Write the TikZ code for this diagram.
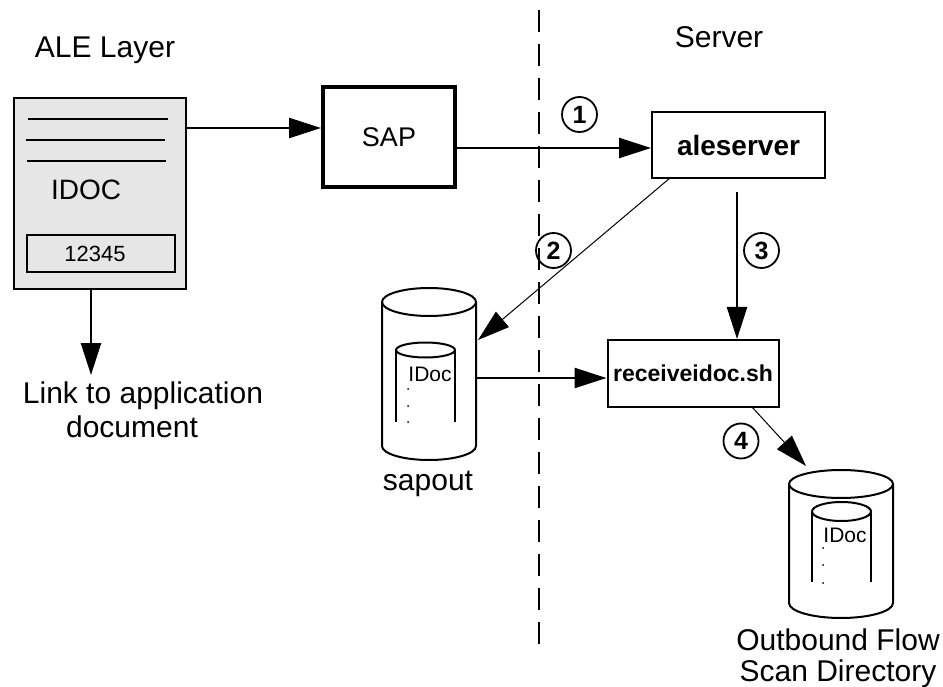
\documentclass[tikz,border=0pt]{standalone}
\usepackage{fontspec}
\setmainfont{Liberation Sans}
\usetikzlibrary{arrows.meta}
\tikzset{>={Triangle[width=20pt,length=32pt]}}
\definecolor{docgray}{HTML}{E6E6E6}
\tikzset{
  txt/.style={font=\fontsize{30}{34}\selectfont},
  small/.style={font=\fontsize{21}{24}\selectfont},
  box/.style={draw, line width=2pt, inner sep=0pt},
  flow/.style={->, line width=2.5pt},
  thinflow/.style={->, line width=1pt},
  num/.style={circle, draw, line width=1.8pt, inner sep=0pt, minimum size=35pt,
    font=\bfseries\fontsize{25}{25}\selectfont},
}
\begin{document}
\begin{tikzpicture}[x=1pt, y=-1pt]

  \useasboundingbox (0,0) rectangle (943,687);

  % headings and the dividing line
  \node[txt, anchor=base] (alelayer) at (105,58) {ALE Layer};
  \node[txt, anchor=base] (server) at (719,48) {Server};
  \draw[line width=2pt, dash pattern=on 22pt off 12pt] (539,10) -- (539,650);

  % IDOC document
  \node[draw, fill=docgray, line width=2pt, minimum width=172pt, minimum height=191pt,
    inner sep=0pt] (doc) at (100,193.5) {};
  \draw[line width=2.5pt] (28,119) -- (168,119);
  \draw[line width=2.5pt] (26,140) -- (165,140);
  \draw[line width=2.5pt] (27,161) -- (166,161);
  \node[font=\fontsize{28}{30}\selectfont, anchor=base] (idoc) at (86,200) {IDOC};
  \node[draw, line width=2.5pt, minimum width=148pt, minimum height=37pt, inner sep=0pt]
    (number) at (101,253.5) {};
  \node[font=\fontsize{22}{24}\selectfont, anchor=base] (numtext) at (95,262) {12345};

  % boxes
  \node[box, line width=4pt, minimum width=132pt, minimum height=100pt,
    font=\fontsize{27}{30}\selectfont] (sap) at (389,137.5) {SAP};
  \node[box, minimum width=173pt, minimum height=66pt,
    font=\bfseries\fontsize{28}{30}\selectfont] (ale) at (738.5,145) {aleserver};
  \node[box, minimum width=171pt, minimum height=67pt,
    font=\bfseries\fontsize{23}{26}\selectfont] (receive) at (693,373.5) {receiveidoc.sh};

  % sapout drum
  \draw[line width=2pt] (429,302) ellipse [x radius=47pt, y radius=14pt];
  \draw[line width=2pt] (382,302) -- (382,446)
    arc[start angle=180, end angle=360, x radius=47pt, y radius=14pt] -- (476,302);
  \draw[line width=2pt] (425.5,350) ellipse [x radius=29.5pt, y radius=7.5pt];
  \draw[line width=2pt] (396,350) -- (396,422);
  \draw[line width=2pt] (455,350) -- (455,422);
  \node[small, anchor=base] (sapdoc) at (430,381) {IDoc};
  \foreach \y in {389,406,422}
    \fill (408,\y) circle (1pt);
  \node[txt, anchor=base] (sapout) at (428,490) {sapout};
  \coordinate (sapin) at (478,340);

  % outbound drum
  \draw[line width=2pt] (841,484) ellipse [x radius=52pt, y radius=14pt];
  \draw[line width=2pt] (789,484) -- (789,603)
    arc[start angle=180, end angle=360, x radius=52pt, y radius=15pt] -- (893,484);
  \draw[line width=2pt] (841.5,511.5) ellipse [x radius=29.5pt, y radius=9.5pt];
  \draw[line width=2pt] (812,511.5) -- (812,582);
  \draw[line width=2pt] (871,511.5) -- (871,582);
  \node[small, anchor=base] (outdoc) at (845,542) {IDoc};
  \foreach \y in {548,565,583}
    \fill (823,\y) circle (1pt);
  \node[txt, anchor=base] (outbound) at (838,650) {Outbound Flow};
  \node[txt, anchor=base] (scandir) at (838,681) {Scan Directory};
  \coordinate (outin) at (806,466);

  % link text
  \coordinate (linkend) at (91,375);
  \node[txt, anchor=base] (link) at (143,403) {Link to application};
  \node[txt, anchor=base] (linkdoc) at (132,437) {document};

  % connectors
  \draw[flow] (doc.east |- 0,128) -- (sap.west |- 0,128);
  \draw[flow] (doc.south -| 91,0) -- (linkend);
  \draw[flow] (sap.east |- 0,148) -- (ale.west |- 0,148);
  \draw[thinflow] (670,178) -- (sapin);
  \draw[flow] (737,192) -- (receive.north -| 737,0);
  \draw[flow] (476,378) -- (receive.west |- 0,378);
  \draw[thinflow] (752,407) -- (outin);

  % step numbers
  \node[num] (one) at (579.5,114.5) {1};
  \node[num] (two) at (553.5,250.5) {2};
  \node[num] (three) at (761.5,250.5) {3};
  \node[num] (four) at (741,441) {4};

\end{tikzpicture}
\end{document}
